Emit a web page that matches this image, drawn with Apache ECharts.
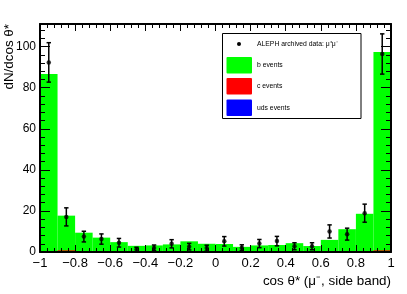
<!DOCTYPE html>
<html><head><meta charset="utf-8">
<script src="https://cdn.jsdelivr.net/npm/echarts@6/dist/echarts.min.js"></script>
<style>html,body{margin:0;padding:0;background:#fff}#c{width:407px;height:294px}</style>
</head><body><div id="c"></div>
<script>
// bin centres of cos theta* (bin width 0.1)
const binCenters = [-0.95,-0.85,-0.75,-0.65,-0.55,-0.45,-0.35,-0.25,-0.15,-0.05,
                     0.05, 0.15, 0.25, 0.35, 0.45, 0.55, 0.65, 0.75, 0.85, 0.95];
const binWidth = 0.1;
const bEvents   = [86.7,17.7,9.4,7.0,4.8,3.0,3.2,3.7,5.2,4.0, 3.9,2.5,3.2,3.4,4.3,2.9,5.9,11.1,18.6,97.4];
const cEvents   = [0.3,0.8,0.2,0.1,0.1,0.1,0.1,0.1,0.1,0.1, 0.1,0.1,0.1,0.1,0.1,0.1,0.1,0.2,0.3,0.8];
const udsEvents = [0.1,0.1,0.0,0.0,0.0,0.0,0.0,0.0,0.0,0.0, 0.0,0.0,0.0,0.0,0.0,0.0,0.0,0.0,0.1,0.1];
const dataVals  = [92.3,17.1,7.5,6.3,4.5,1.2,2.0,4.0,2.6,1.9, 5.2,2.1,4.1,5.3,2.8,2.8,10.0,8.7,18.9,96.4];
const dataErrs  = [9.6,4.4,2.6,2.5,2.1,1.1,1.4,2.0,1.6,1.4, 2.3,1.4,2.0,2.3,1.7,1.7,3.2,2.9,4.4,9.8];
const xTickLabels = {"-1":"\u22121","-0.8":"\u22120.8","-0.6":"\u22120.6","-0.4":"\u22120.4","-0.2":"\u22120.2","0":"0","0.2":"0.2","0.4":"0.4","0.6":"0.6","0.8":"0.8","1":"1"};
const yTickLabels = [0,20,40,60,80,100];
const legendLabels = ["ALEPH archived data: \u03bc\u207a\u03bc\u207b","b events","c events","uds events"];
const colors = {b:'#00ff00', c:'#ff0000', uds:'#0000ff'};

const FONT = '"Liberation Sans", Arial, Helvetica, sans-serif';
const chart = echarts.init(document.getElementById('c'), null, {renderer:'canvas'});

function histSeries(name, vals, color){
  return {
    type:'custom', name, clip:true, z:2,
    data: binCenters.map((x,i)=>[x, vals[i]]),
    renderItem(params, api){
      const x = api.value(0), v = api.value(1);
      const p0 = api.coord([x - binWidth/2, 0]);
      const p1 = api.coord([x + binWidth/2, v]);
      return {type:'rect', shape:{x:p0[0], y:p1[1], width:p1[0]-p0[0], height:p0[1]-p1[1]}, style:{fill:color}};
    }
  };
}

function xAx(pos, interval, len, labels, line){
  return {type:'value', min:-1, max:1, interval, position:pos, z:10,
    axisLine:{show:line, onZero:false, lineStyle:{color:'#000', width:2}},
    axisTick:{show:true, inside:true, length:len, lineStyle:{color:'#000', width:1}},
    axisLabel:{show:labels, margin:5, color:'#000', fontSize:13, fontFamily:FONT,
      formatter:(v)=>{const k=String(Number(v.toFixed(2))); return xTickLabels[k]!==undefined?xTickLabels[k]:'';}},
    splitLine:{show:false}};
}
function yAx(pos, interval, len, labels, line){
  return {type:'value', min:0, max:111, interval, position:pos, z:10,
    axisLine:{show:line, onZero:false, lineStyle:{color:'#000', width:2}},
    axisTick:{show:true, inside:true, length:len, lineStyle:{color:'#000', width:1}},
    axisLabel:{show:labels, margin:4, color:'#000', fontSize:12, fontFamily:FONT,
      formatter:(v)=> yTickLabels.indexOf(Math.round(v))>=0 && Math.abs(v-Math.round(v))<1e-6 ? String(Math.round(v)) : ''},
    splitLine:{show:false}};
}

const option = {
  animation:false,
  backgroundColor:'#fff',
  grid:{left:40, right:16, top:24, bottom:42, show:false},
  xAxis:[xAx('bottom',0.2,7,true,true), xAx('bottom',0.04,4,false,false), xAx('top',0.2,7,false,true), xAx('top',0.04,4,false,false)],
  yAxis:[yAx('left',20,10,true,true), yAx('left',4,5,false,false), yAx('right',20,10,false,true), yAx('right',4,5,false,false)],
  series:[
    histSeries('b events', bEvents, colors.b),
    histSeries('c events', cEvents, colors.c),
    histSeries('uds events', udsEvents, colors.uds),
    {
      type:'custom', name:'errors', z:5, clip:false,
      data: binCenters.map((x,i)=>[x, dataVals[i], dataErrs[i]]),
      renderItem(params, api){
        const x = api.value(0), v = api.value(1), e = api.value(2);
        const top = api.coord([x, v+e]), bot = api.coord([x, Math.max(0, v-e)]);
        const st = {stroke:'#000', lineWidth:1.5};
        return {type:'group', children:[
          {type:'line', shape:{x1:top[0], y1:top[1], x2:bot[0], y2:bot[1]}, style:st},
          {type:'line', shape:{x1:top[0]-2.2, y1:top[1], x2:top[0]+2.2, y2:top[1]}, style:st},
          {type:'line', shape:{x1:bot[0]-2.2, y1:bot[1], x2:bot[0]+2.2, y2:bot[1]}, style:st}
        ]};
      }
    },
    {type:'scatter', name:'data', z:6, symbol:'circle', symbolSize:4.5,
      itemStyle:{color:'#000'}, data: binCenters.map((x,i)=>[x, dataVals[i]])}
  ],
  graphic:[
    {type:'text', x:9, y:24, rotation:Math.PI/2, z:20,
      style:{text:'dN/dcos \u03b8*', fill:'#000', font:'13.4px '+FONT, align:'right', verticalAlign:'middle'}},
    {type:'text', x:391, y:281, z:20,
      style:{text:'cos \u03b8* (\u03bc\u207b, side band)', fill:'#000', font:'13.4px '+FONT, align:'right', verticalAlign:'middle'}},
    {type:'group', z:20, children:[
      {type:'rect', shape:{x:222.5, y:33.5, width:138.5, height:85}, style:{fill:'#fff', stroke:'#000', lineWidth:1}},
      {type:'circle', shape:{cx:239, cy:44, r:2}, style:{fill:'#000'}},
      {type:'text', x:257, y:44, style:{text:legendLabels[0], fill:'#000', font:'6.8px '+FONT, verticalAlign:'middle'}},
      {type:'rect', shape:{x:226.5, y:57, width:25.5, height:16.5, r:1}, style:{fill:colors.b}},
      {type:'text', x:257, y:65, style:{text:legendLabels[1], fill:'#000', font:'6.8px '+FONT, verticalAlign:'middle'}},
      {type:'rect', shape:{x:226.5, y:78, width:25.5, height:16.5, r:1}, style:{fill:colors.c}},
      {type:'text', x:257, y:86.5, style:{text:legendLabels[2], fill:'#000', font:'6.8px '+FONT, verticalAlign:'middle'}},
      {type:'rect', shape:{x:226.5, y:99.5, width:25.5, height:16.5, r:1}, style:{fill:colors.uds}},
      {type:'text', x:257, y:108.5, style:{text:legendLabels[3], fill:'#000', font:'6.8px '+FONT, verticalAlign:'middle'}}
    ]}
  ]
};
chart.setOption(option);
</script></body></html>
